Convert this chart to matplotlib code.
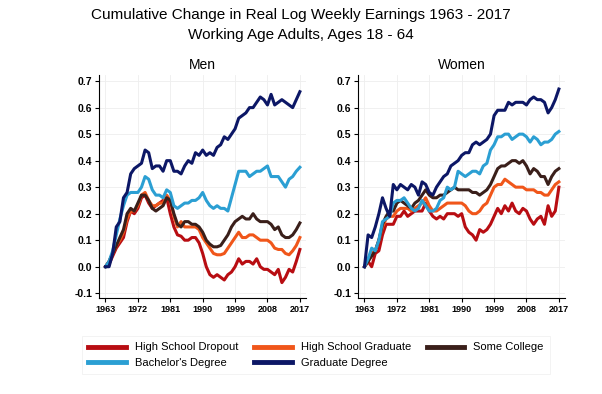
import matplotlib.pyplot as plt
import numpy as np

plt.rcParams['font.family'] = ['Liberation Sans', 'DejaVu Sans']

years = np.arange(1963, 2018)

# Men
men_dropout = [0.0, 0.01, 0.04, 0.07, 0.09, 0.11, 0.17, 0.21, 0.20, 0.22,
               0.26, 0.27, 0.24, 0.22, 0.23, 0.24, 0.25, 0.26, 0.20, 0.15,
               0.12, 0.115, 0.10, 0.10, 0.11, 0.11, 0.09, 0.05, 0.0, -0.03,
               -0.04, -0.03, -0.04, -0.05, -0.03, -0.02, 0.0, 0.03, 0.01, 0.02,
               0.02, 0.01, 0.03, 0.0, -0.01, -0.01, -0.02, -0.03, -0.01, -0.06,
               -0.04, -0.01, -0.02, 0.02, 0.065]
men_hsgrad = [0.0, 0.02, 0.05, 0.08, 0.10, 0.13, 0.18, 0.21, 0.21, 0.23,
              0.27, 0.28, 0.25, 0.23, 0.23, 0.24, 0.24, 0.27, 0.25, 0.19,
              0.15, 0.17, 0.15, 0.15, 0.15, 0.15, 0.14, 0.11, 0.09, 0.07,
              0.05, 0.045, 0.045, 0.05, 0.07, 0.09, 0.11, 0.13, 0.11, 0.11,
              0.12, 0.12, 0.11, 0.10, 0.10, 0.10, 0.09, 0.07, 0.065, 0.065,
              0.05, 0.045, 0.06, 0.08, 0.11]
men_somecol = [0.0, 0.02, 0.05, 0.08, 0.11, 0.14, 0.20, 0.22, 0.21, 0.24,
               0.27, 0.27, 0.25, 0.22, 0.21, 0.22, 0.23, 0.26, 0.25, 0.20,
               0.16, 0.15, 0.17, 0.17, 0.16, 0.16, 0.15, 0.13, 0.10, 0.085,
               0.075, 0.075, 0.08, 0.10, 0.12, 0.15, 0.17, 0.18, 0.19, 0.18,
               0.18, 0.20, 0.18, 0.17, 0.17, 0.17, 0.16, 0.14, 0.15, 0.12,
               0.11, 0.11, 0.12, 0.14, 0.165]
men_bachelor = [0.0, 0.02, 0.06, 0.12, 0.18, 0.23, 0.27, 0.28, 0.28, 0.28,
                0.30, 0.34, 0.33, 0.29, 0.27, 0.27, 0.26, 0.29, 0.28, 0.23,
                0.22, 0.23, 0.24, 0.24, 0.25, 0.25, 0.26, 0.28, 0.25, 0.23,
                0.22, 0.23, 0.22, 0.22, 0.21, 0.26, 0.31, 0.36, 0.36, 0.36,
                0.34, 0.35, 0.36, 0.36, 0.37, 0.38, 0.34, 0.34, 0.34, 0.32,
                0.30, 0.33, 0.34, 0.36, 0.375]
men_graduate = [0.0, 0.0, 0.05, 0.15, 0.17, 0.26, 0.28, 0.35, 0.37, 0.38,
                0.39, 0.44, 0.43, 0.37, 0.38, 0.38, 0.36, 0.40, 0.40, 0.36,
                0.36, 0.35, 0.38, 0.40, 0.39, 0.43, 0.42, 0.44, 0.42, 0.43,
                0.42, 0.45, 0.46, 0.49, 0.48, 0.50, 0.52, 0.56, 0.57, 0.58,
                0.60, 0.60, 0.62, 0.64, 0.63, 0.61, 0.65, 0.61, 0.62, 0.63,
                0.62, 0.61, 0.60, 0.63, 0.66]

# Women
women_dropout = [0.0, 0.02, 0.0, 0.05, 0.06, 0.12, 0.16, 0.16, 0.16, 0.19,
                 0.19, 0.21, 0.19, 0.20, 0.21, 0.21, 0.21, 0.24, 0.21, 0.19,
                 0.18, 0.19, 0.18, 0.20, 0.20, 0.20, 0.19, 0.20, 0.15, 0.13,
                 0.12, 0.10, 0.14, 0.13, 0.14, 0.16, 0.19, 0.22, 0.20, 0.23,
                 0.21, 0.24, 0.21, 0.20, 0.22, 0.21, 0.18, 0.16, 0.18, 0.19,
                 0.16, 0.23, 0.19, 0.21, 0.30]
women_hsgrad = [0.0, 0.02, 0.05, 0.06, 0.10, 0.15, 0.18, 0.19, 0.19, 0.21,
                0.22, 0.22, 0.22, 0.21, 0.22, 0.23, 0.24, 0.26, 0.23, 0.21,
                0.21, 0.22, 0.23, 0.24, 0.24, 0.24, 0.24, 0.24, 0.23, 0.21,
                0.20, 0.20, 0.21, 0.23, 0.24, 0.27, 0.30, 0.31, 0.31, 0.33,
                0.32, 0.31, 0.30, 0.30, 0.30, 0.29, 0.29, 0.29, 0.28, 0.28,
                0.27, 0.27, 0.29, 0.31, 0.32]
women_somecol = [0.0, 0.02, 0.04, 0.06, 0.10, 0.16, 0.19, 0.21, 0.21, 0.24,
                 0.25, 0.24, 0.23, 0.22, 0.24, 0.25, 0.27, 0.29, 0.27, 0.26,
                 0.26, 0.27, 0.27, 0.28, 0.29, 0.30, 0.29, 0.29, 0.29, 0.29,
                 0.28, 0.28, 0.27, 0.28, 0.29, 0.31, 0.34, 0.37, 0.38, 0.38,
                 0.39, 0.40, 0.40, 0.39, 0.40, 0.38, 0.35, 0.37, 0.36, 0.34,
                 0.34, 0.31, 0.34, 0.36, 0.37]
women_bachelor = [0.0, 0.03, 0.07, 0.06, 0.10, 0.17, 0.18, 0.19, 0.24, 0.25,
                  0.25, 0.26, 0.24, 0.22, 0.21, 0.22, 0.25, 0.23, 0.21, 0.21,
                  0.22, 0.25, 0.26, 0.30, 0.29, 0.30, 0.36, 0.35, 0.34, 0.35,
                  0.36, 0.36, 0.35, 0.38, 0.39, 0.44, 0.46, 0.49, 0.49, 0.50,
                  0.50, 0.48, 0.49, 0.50, 0.50, 0.49, 0.47, 0.49, 0.48, 0.46,
                  0.47, 0.47, 0.48, 0.50, 0.51]
women_graduate = [0.0, 0.12, 0.11, 0.15, 0.20, 0.26, 0.22, 0.19, 0.31, 0.29,
                  0.31, 0.30, 0.29, 0.31, 0.30, 0.27, 0.32, 0.31, 0.28, 0.27,
                  0.30, 0.32, 0.34, 0.35, 0.38, 0.39, 0.40, 0.42, 0.43, 0.43,
                  0.46, 0.47, 0.46, 0.47, 0.48, 0.50, 0.57, 0.59, 0.59, 0.59,
                  0.62, 0.61, 0.62, 0.62, 0.62, 0.61, 0.63, 0.64, 0.63, 0.63,
                  0.62, 0.58, 0.60, 0.63, 0.67]

labels = ['High School Dropout', 'High School Graduate', 'Some College',
          "Bachelor's Degree", 'Graduate Degree']
colors = ['#b80d12', '#f0561a', '#3a1f1a', '#2b9fd3', '#0c1766']
xticks = [1963, 1972, 1981, 1990, 1999, 2008, 2017]
yticks = [-0.1, 0.0, 0.1, 0.2, 0.3, 0.4, 0.5, 0.6, 0.7]

men = [men_dropout, men_hsgrad, men_somecol, men_bachelor, men_graduate]
women = [women_dropout, women_hsgrad, women_somecol, women_bachelor, women_graduate]

fig = plt.figure(figsize=(6.02, 3.94), dpi=100)
fig.text(0.5, 0.962, 'Cumulative Change in Real Log Weekly Earnings 1963 - 2017',
         ha='center', va='center', fontsize=11)
fig.text(0.5, 0.912, 'Working Age Adults, Ages 18 - 64',
         ha='center', va='center', fontsize=11)

ax1 = fig.add_axes([99/602, 1-298/394, 207/602, 223/394])
ax2 = fig.add_axes([358/602, 1-298/394, 207/602, 223/394])

handles = []
for ax, data, title in [(ax1, men, 'Men'), (ax2, women, 'Women')]:
    for vals, c, lab in zip(data, colors, labels):
        l, = ax.plot(years, vals, color=c, lw=2.2, label=lab)
        if ax is ax1:
            handles.append(l)
    ax.set_title(title, fontsize=10, pad=4)
    ax.set_xlim(1961.2, 2018.7)
    ax.set_ylim(-0.118, 0.723)
    ax.set_xticks(xticks)
    ax.set_xticklabels([str(t) for t in xticks], fontsize=6.5, fontweight='bold')
    ax.set_yticks(yticks)
    ax.set_yticklabels(['%.1f' % t for t in yticks], fontsize=7.5, fontweight='bold')
    ax.grid(True, color='#eeeeee', lw=0.6)
    ax.set_axisbelow(True)
    for s in ['top', 'right']:
        ax.spines[s].set_visible(False)
    ax.spines['left'].set_linewidth(0.8)
    ax.spines['bottom'].set_linewidth(0.8)
    ax.tick_params(length=3, width=0.8, pad=2)

# legend fills column-wise, reorder so rows read like the original
order = [0, 3, 1, 4, 2]
leg = fig.legend([handles[i] for i in order], [labels[i] for i in order],
                 ncol=3, loc='center', bbox_to_anchor=(316/602, 1-355/394),
                 fontsize=8, frameon=True, fancybox=False, handlelength=3.4,
                 columnspacing=1.4, handletextpad=0.8, borderpad=0.6,
                 labelspacing=0.45)
leg.get_frame().set_edgecolor('#eeeeee')
leg.get_frame().set_linewidth(0.6)
for h in leg.get_lines():
    h.set_linewidth(3.5)

fig.savefig('out.png', dpi=100)
